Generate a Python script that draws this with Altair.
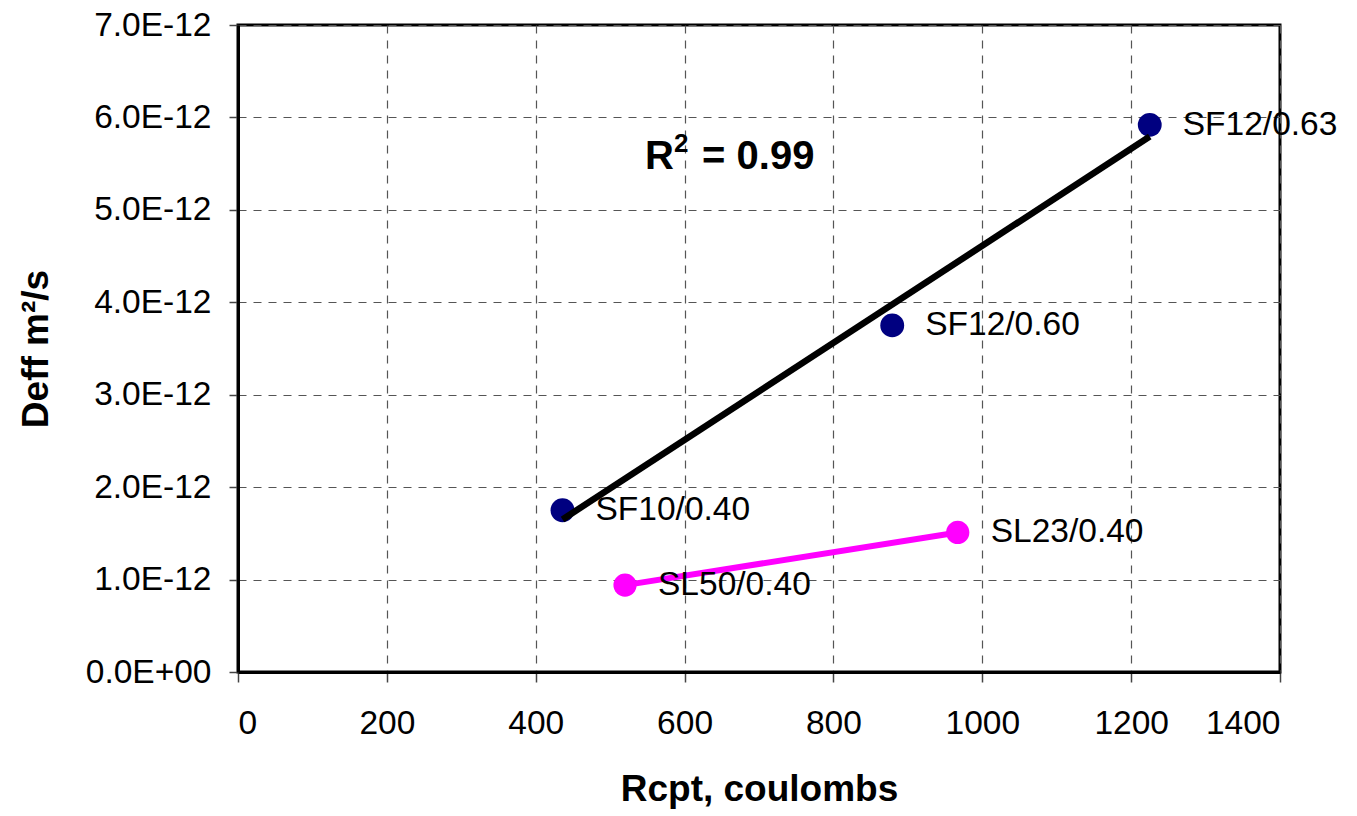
import altair as alt
import pandas as pd

# --- data ---
sf_labels = ["SF10/0.40", "SF12/0.60", "SF12/0.63"]
sf_rcpt = [436, 879, 1225]
sf_deff = [1.75e-12, 3.75e-12, 5.92e-12]

sl_labels = ["SL50/0.40", "SL23/0.40"]
sl_rcpt = [520, 967]
sl_deff = [0.94e-12, 1.51e-12]

x_ticks = [0, 200, 400, 600, 800, 1000, 1200, 1400]
y_ticks = [0, 1e-12, 2e-12, 3e-12, 4e-12, 5e-12, 6e-12, 7e-12]

r2_anchor_x = [547]
r2_anchor_y = [5.44e-12]

sf = pd.DataFrame({"label": sf_labels, "x": sf_rcpt, "y": sf_deff})
sl = pd.DataFrame({"label": sl_labels, "x": sl_rcpt, "y": sl_deff})
ann = pd.DataFrame({"x": r2_anchor_x, "y": r2_anchor_y})

FONT = "Liberation Sans"

xs = alt.Scale(domain=[0, 1400], nice=False)
ys = alt.Scale(domain=[0, 7e-12], nice=False)

x_enc = alt.X("x:Q", scale=xs, axis=alt.Axis(values=x_ticks, title="Rcpt, coulombs", format="d",
                                               labelPadding=25, titlePadding=32, tickSize=10))
y_enc = alt.Y("y:Q", scale=ys, axis=alt.Axis(
    values=y_ticks, title="Deff m²/s", tickSize=9, labelPadding=18, titlePadding=30,
    labelExpr="datum.value == 0 ? '0.0E+00' : replace(format(datum.value, '.1e'), 'e', 'E')"))

sf_pts = alt.Chart(sf).mark_circle(color="#000080", opacity=1, size=570).encode(x=x_enc, y=y_enc)
trend = alt.Chart(sf).transform_regression("x", "y").mark_line(
    color="black", strokeWidth=6.5).encode(x="x:Q", y="y:Q")
sf_txt = alt.Chart(sf).mark_text(align="left", baseline="middle", dx=33, fontSize=33.5,
                                  font=FONT, color="black").encode(x="x:Q", y="y:Q", text="label:N")

sl_line = alt.Chart(sl).mark_line(color="#FF00FF", strokeWidth=6).encode(x="x:Q", y="y:Q")
sl_pts = alt.Chart(sl).mark_circle(color="#FF00FF", opacity=1, size=540).encode(x="x:Q", y="y:Q")
sl_txt = alt.Chart(sl).mark_text(align="left", baseline="middle", dx=33, fontSize=33.5,
                                  font=FONT, color="black").encode(x="x:Q", y="y:Q", text="label:N")

r_txt = alt.Chart(ann).mark_text(align="left", baseline="alphabetic", fontSize=40, fontWeight="bold",
                                  font=FONT, color="black", text="R").encode(x="x:Q", y="y:Q")
r_sup = alt.Chart(ann).mark_text(align="left", baseline="alphabetic", fontSize=26, fontWeight="bold",
                                  font=FONT, color="black", text="2", dx=29, dy=-17).encode(x="x:Q", y="y:Q")
r_val = alt.Chart(ann).mark_text(align="left", baseline="alphabetic", fontSize=40, fontWeight="bold",
                                  font=FONT, color="black", text="= 0.99", dx=57).encode(x="x:Q", y="y:Q")

chart = alt.layer(sf_pts, trend, sf_txt, sl_line, sl_pts, sl_txt, r_txt, r_sup, r_val).properties(
    width=1042, height=647,
    background="white",
    autosize=alt.AutoSizeParams(type="none"),
    padding={"left": 238, "top": 25, "right": 77, "bottom": 144},
).configure_view(stroke="black", strokeWidth=3).configure_axis(
    labelFont=FONT, titleFont=FONT, labelFontSize=33.5, titleFontSize=37, titleFontWeight="bold",
    labelColor="black", titleColor="black", domainColor="black", domainWidth=3,
    tickColor="#444", tickWidth=1.5, gridColor="#555", gridDash=[8, 7], gridWidth=1.2,
    gridOpacity=1,
)

chart.save("out.html", embed_options={"renderer": "svg", "actions": False})
